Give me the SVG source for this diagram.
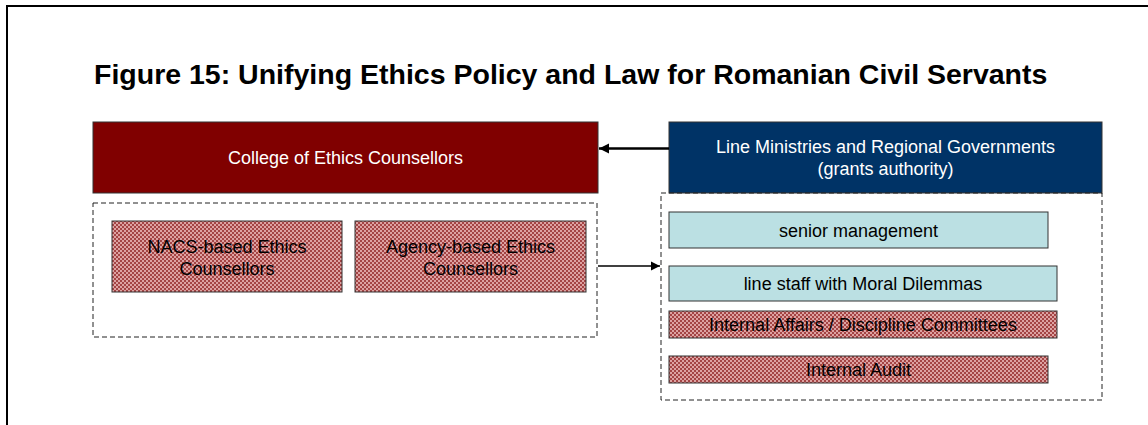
<svg xmlns="http://www.w3.org/2000/svg" width="1148" height="425" viewBox="0 0 1148 425">
<style>
  text { font-family: "Liberation Sans", Arial, sans-serif; text-anchor: middle; }
  .t { font-size: 18px; fill: #000; }
  .w { font-size: 18px; fill: #fff; }
  .title { font-size: 28.5px; font-weight: bold; text-anchor: start; fill: #000; }
  .box { stroke: #333; stroke-width: 1; }
  .dash { fill: none; stroke: #222; stroke-width: 1; stroke-dasharray: 5 3; }
  .pat { fill: url(#check); stroke: #333; stroke-width: 1; }
  .cyan { fill: #BBE0E3; stroke: #333; stroke-width: 1; }
</style>
<defs>
  <pattern id="check" width="4" height="4" patternUnits="userSpaceOnUse">
    <rect width="4" height="4" fill="#DDA2A2"/>
    <rect x="0" y="0" width="2" height="2" fill="#A44444"/>
    <rect x="2" y="2" width="2" height="2" fill="#A44444"/>
  </pattern>
  <marker id="ah" viewBox="0 0 10 10" refX="10" refY="5" markerWidth="4" markerHeight="4" orient="auto" markerUnits="strokeWidth">
    <path d="M0,0 L10,5 L0,10 z" fill="#000"/>
  </marker>
  <marker id="ah2" viewBox="0 0 10 10" refX="10" refY="5" markerWidth="7" markerHeight="7" orient="auto" markerUnits="strokeWidth">
    <path d="M0,0 L10,5 L0,10 z" fill="#000"/>
  </marker>
</defs>
<rect width="1148" height="425" fill="#fff"/>
<path d="M7,425 V6 H1148" fill="none" stroke="#000" stroke-width="2"/>
<text class="title" x="94" y="84">Figure 15: Unifying Ethics Policy and Law for Romanian Civil Servants</text>

<g id="college">
  <rect class="box" x="93" y="122" width="505" height="71" fill="#800000"/>
  <text class="w" x="345.5" y="164">College of Ethics Counsellors</text>
</g>
<g id="counsellors-group">
  <rect class="dash" x="93" y="203" width="504" height="134"/>
</g>
<g id="nacs">
  <rect class="pat" x="112" y="221" width="230" height="71"/>
  <text class="t" x="227" y="253">NACS-based Ethics</text>
  <text class="t" x="227" y="275">Counsellors</text>
</g>
<g id="agency">
  <rect class="pat" x="355" y="221" width="231" height="71"/>
  <text class="t" x="470.5" y="253">Agency-based Ethics</text>
  <text class="t" x="470.5" y="275">Counsellors</text>
</g>
<g id="ministries">
  <rect class="box" x="669" y="122" width="433" height="71" fill="#003366"/>
  <text class="w" x="885.5" y="153">Line Ministries and Regional Governments</text>
  <text class="w" x="885.5" y="175">(grants authority)</text>
</g>
<g id="ministries-group">
  <rect class="dash" x="661" y="193" width="441" height="207"/>
</g>
<g id="senior">
  <rect class="cyan" x="669" y="212" width="379" height="36"/>
  <text class="t" x="858.5" y="236.5">senior management</text>
</g>
<g id="linestaff">
  <rect class="cyan" x="669" y="266" width="388" height="35"/>
  <text class="t" x="863" y="290">line staff with Moral Dilemmas</text>
</g>
<g id="internal-affairs">
  <rect class="pat" x="669" y="311" width="388" height="27"/>
  <text class="t" x="863" y="331">Internal Affairs / Discipline Committees</text>
</g>
<g id="internal-audit">
  <rect class="pat" x="669" y="356" width="379" height="27"/>
  <text class="t" x="858.5" y="376">Internal Audit</text>
</g>
<g id="connectors">
  <line x1="669" y1="148.5" x2="599" y2="148.5" stroke="#000" stroke-width="2.6" marker-end="url(#ah)"/>
  <line x1="598" y1="266" x2="660" y2="266" stroke="#000" stroke-width="1.3" marker-end="url(#ah2)"/>
</g>
</svg>
